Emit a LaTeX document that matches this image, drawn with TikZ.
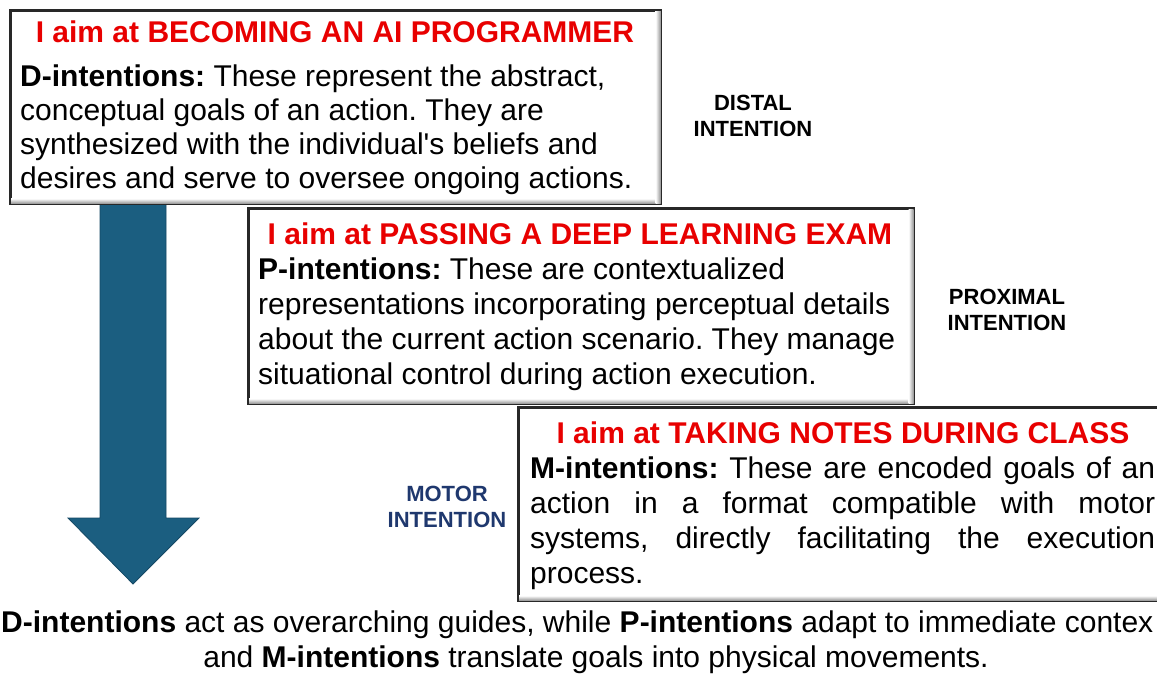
\documentclass[tikz,border=0pt]{standalone}
\usepackage{fontspec}
\setmainfont{Liberation Sans}
\usetikzlibrary{calc}
\definecolor{tred}{RGB}{232,0,0}
\definecolor{arrowblue}{RGB}{27,94,128}
\definecolor{arrowedge}{RGB}{20,72,100}
\definecolor{navy}{RGB}{31,56,110}
\definecolor{boxedge}{RGB}{40,40,40}
\newcommand\boxinnershade[1]{%
  \shade[top color=white, bottom color=black!42] ($(#1.south west)+(1,-6)$) rectangle ($(#1.south east)+(-1,-1)$);
  \shade[left color=white, right color=black!42] ($(#1.north east)+(-6,1)$) rectangle ($(#1.south east)+(-1,-1)$);
  \draw[boxedge, line width=1.6pt] (#1.north west) rectangle (#1.south east);
}
\frenchspacing
\begin{document}
\begin{tikzpicture}[x=1pt,y=-1pt,
  ibox/.style={draw=boxedge, line width=1.6pt, fill=white, rectangle, inner sep=0pt, anchor=north west},
  title/.style={font=\fontsize{30}{34}\selectfont\bfseries, text=tred, inner sep=0pt, anchor=base},
  body/.style={font=\fontsize{30}{#1}\selectfont\frenchspacing, align=left, inner sep=0pt, anchor=north west},
  tag/.style={font=\fontsize{22}{26}\selectfont\bfseries, align=center, inner sep=0pt},
  caption/.style={font=\fontsize{30}{35}\selectfont\frenchspacing, inner sep=0pt}
]
\useasboundingbox (0,0) rectangle (1157,674);
\fill[white] (0,0) rectangle (1157,674);

% big downward arrow
\coordinate (atop) at (133,195);
\coordinate (atip) at (133,584);
\filldraw[fill=arrowblue, draw=arrowedge, line width=0.8pt]
  ($(atop)+(-33,0)$) -- ($(atop)+(33,0)$) -- ($(atip)+(33,-66)$) -- ($(atip)+(66,-66)$)
  -- (atip) -- ($(atip)+(-65,-66)$) -- ($(atip)+(-33,-66)$) -- cycle;

% boxes
\node[ibox, minimum width=650pt, minimum height=193pt] (b1) at (10,10) {};
\boxinnershade{b1}
\node[ibox, minimum width=665pt, minimum height=195pt] (b2) at (248,208) {};
\boxinnershade{b2}
\node[ibox, minimum width=650pt, minimum height=193pt] (b3) at (518,407) {};
\boxinnershade{b3}

% titles
\node[title] (t1) at (335,43) {I aim at BECOMING AN AI PROGRAMMER};
\node[title] (t2) at (580,244) {I aim at PASSING A DEEP LEARNING EXAM};
\node[title] (t3) at (843,443) {I aim at TAKING NOTES DURING CLASS};

% bodies
\node[body=34] (d1) at (20,62) {\rule{0pt}{24pt}\textbf{D-intentions:} These represent the abstract,\\
conceptual goals of an action. They are\\
synthesized with the individual\textquotesingle s beliefs and\\
desires and serve to oversee ongoing actions.};

\node[body=35] (d2) at (258,255) {\rule{0pt}{24pt}\textbf{P-intentions:} These are contextualized\\
representations incorporating perceptual details\\
about the current action scenario. They manage\\
situational control during action execution.};

\node[body=35] (d3) at (530,454) {\rule{0pt}{24pt}\makebox[625pt][s]{\textbf{M-intentions:} These are encoded goals of an}\\
\makebox[625pt][s]{action in a format compatible with motor}\\
\makebox[625pt][s]{systems, directly facilitating the execution}\\
process.};

% side labels
\node[tag] (dist) at (753,116) {DISTAL\\INTENTION};
\node[tag] (prox) at (1007,310) {PROXIMAL\\INTENTION};
\node[tag, text=navy] (mot) at (447,507) {MOTOR\\INTENTION};

% caption
\node[caption, anchor=base west] (c1) at (1,632) {\textbf{D-intentions} act as overarching guides, while \textbf{P-intentions} adapt to immediate contex};
\node[caption, anchor=base] (c2) at (596,667) {and \textbf{M-intentions} translate goals into physical movements.};
\end{tikzpicture}
\end{document}
